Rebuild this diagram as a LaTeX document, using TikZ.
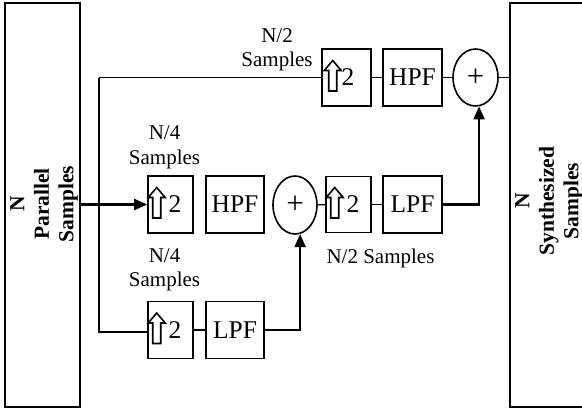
\documentclass[tikz,border=0pt]{standalone}
\usepackage{fontspec}
\setmainfont{Liberation Serif}
\usetikzlibrary{arrows.meta,shapes.geometric}
\newcommand{\upglyph}[2]{%
  \draw[uparrow,shift={(#1.west)},xshift=#2pt]
    (9.5,-17) -- (18,-7) -- (13.5,-7) -- (13.5,13.5) -- (5.5,13.5) -- (5.5,-7) -- (1,-7) -- cycle;}
\begin{document}
\begin{tikzpicture}[x=1pt,y=-1pt,
  blk/.style={draw,line width=1.6pt,inner sep=0pt,minimum height=57pt,font=\fontsize{25.5}{30}\selectfont},
  sumnode/.style={draw,ellipse,line width=1.6pt,inner sep=0pt,minimum width=45pt,minimum height=57pt,font=\fontsize{31}{34}\selectfont},
  big/.style={draw,line width=1.6pt,minimum height=404pt,inner sep=0pt},
  wire/.style={line width=1.4pt},
  flow/.style={line width=2.1pt,-{Triangle[length=13pt,width=11pt]}},
  lbl/.style={align=center,font=\fontsize{21}{24.5}\selectfont,inner sep=0pt},
  vlbl/.style={rotate=90,align=center,font=\fontsize{21.5}{24.5}\selectfont\bfseries,inner sep=0pt},
  uparrow/.style={line width=1.6pt,line join=miter}
]
\clip (0,0) rectangle (582,410);
\fill[white] (0,0) rectangle (582,410);

% big side boxes
\node[big,minimum width=75pt] (par) at (42.5,205) {};
\node[big,minimum width=80pt] (syn) at (550,205) {};
\node[vlbl] (partxt) at (44,204) {N\\Parallel\\Samples};
\node[vlbl] (syntxt) at (549,201) {N\\Synthesized\\Samples};

% top row
\node[blk,minimum width=49pt] (up1) at (346.5,77.5) {\hspace*{3pt}2};
\node[blk,minimum width=59pt] (hpf1) at (412.5,77.5) {HPF};
\node[sumnode] (sum2) at (475.5,77.5) {\raisebox{-2pt}{+}};

% middle row
\node[blk,minimum width=45pt] (up2) at (170.5,204.5) {\hspace*{9pt}2};
\node[blk,minimum width=58pt] (hpf2) at (235,204.5) {HPF};
\node[sumnode,minimum width=44pt,minimum height=58pt] (sum1) at (295,205) {\raisebox{-2pt}{+}};
\node[blk,minimum width=45pt,minimum height=56pt] (up3) at (348.5,204.5) {\hspace*{9pt}2};
\node[blk,minimum width=59pt] (lpf3) at (412.5,204.5) {LPF};

% bottom row
\node[blk,minimum width=45pt] (up4) at (170.5,330) {\hspace*{9pt}2};
\node[blk,minimum width=58pt] (lpf4) at (235,330) {LPF};

% up-sampling glyphs
\upglyph{up1}{2}
\upglyph{up2}{0}
\upglyph{up3}{0}
\upglyph{up4}{0}

% labels
\node[lbl] (l1) at (277,50) {N/2\\Samples};
\node[lbl] (l2) at (164.5,147.5) {N/4\\Samples};
\node[lbl] (l3) at (164.5,270) {N/4\\Samples};
\node[lbl] (l4) at (380.5,258) {N/2 Samples};

% connectors
\coordinate (jt) at (99,77.5);
\coordinate (jb) at (99,332);
\draw[wire] (jt) -- (up1.west);
\draw[wire] (jt) -- (jb) -- (up4.west |- jb);
\draw[flow] (par.east |- up2.west) -- (up2.west);
\draw[wire] (up1) -- (hpf1);
\draw[wire] (hpf1) -- (sum2);
\draw[wire] (sum2.east) -- (syn.west |- sum2.east);
\draw[wire] (up4) -- (lpf4);
\draw[flow] (lpf4.east) -| (sum1.-80);
\draw[wire] (sum1) -- (up3);
\draw[wire] (up3) -- (lpf3);
\draw[flow] (lpf3.east) -| (sum2.-83);
\end{tikzpicture}
\end{document}
